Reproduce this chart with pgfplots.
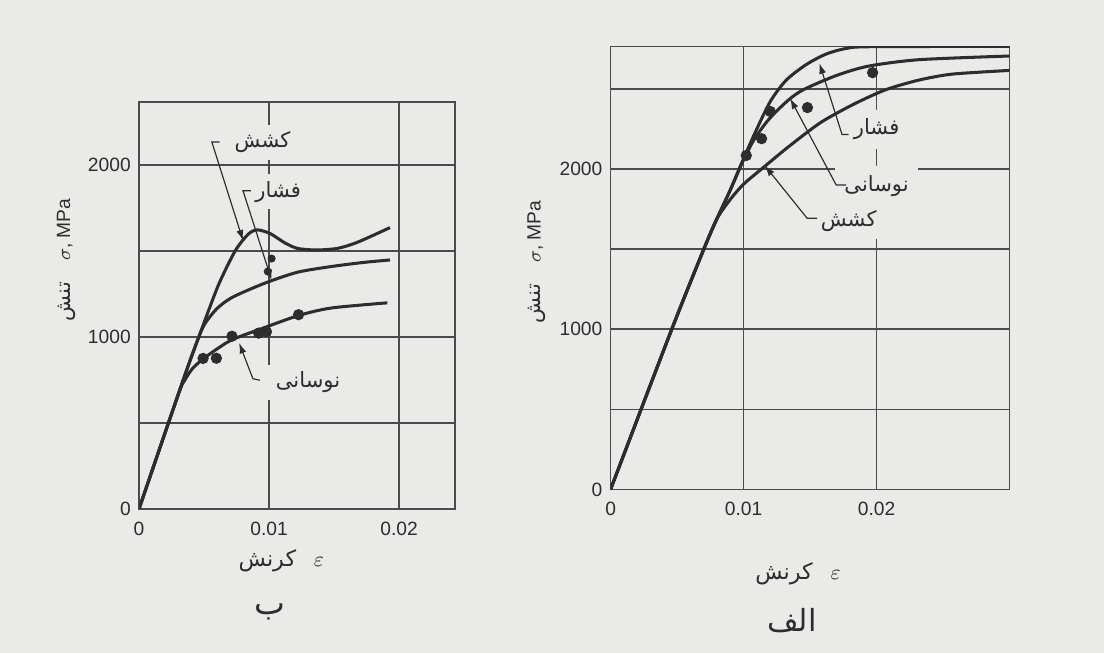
\documentclass[border=0pt]{standalone}
\usepackage{pgfplots}
\pgfplotsset{compat=1.18}
\usepackage{fontspec}
\setmainfont{Liberation Sans}
\newfontfamily\arabicfont[Script=Arabic]{DejaVu Sans}
\usetikzlibrary{arrows.meta}
\TeXXeTstate=1
\definecolor{paper}{RGB}{234,234,232}
\definecolor{ink}{RGB}{45,45,45}
\definecolor{gridc}{RGB}{75,75,75}
\newcommand{\fa}[1]{{\arabicfont\beginR #1\endR}}
\tikzset{
  lbl/.style={font=\fontsize{9}{10}\selectfont, fill=paper, inner sep=3pt, text=ink},
  lead/.style={ink, line width=0.5pt},
}
\pgfplotsset{
  panel/.style={
    scale only axis, anchor=south west,
    axis line style={gridc, line width=0.7pt},
    grid=both,
    major grid style={gridc,line width=0.6pt},
    minor grid style={gridc,line width=0.6pt},
    major tick length=0pt, minor tick length=0pt,
    xmin=0, ymin=0,
    scaled x ticks=false, scaled y ticks=false,
    xtick={0,0.01,0.02}, xticklabels={0,0.01,0.02},
    ytick={0,1000,2000}, yticklabels={0,1000,2000},
    minor ytick={500,1500,2500},
    tick label style={font=\fontsize{8.2}{9}\selectfont, text=ink},
    xticklabel style={yshift=-2pt},
    /pgf/number format/assume math mode=true,
  },
  curve/.style={ink, line width=1.3pt, smooth, tension=0.45, mark=none},
  dots/.style={ink, only marks, mark=*, mark size=2.2pt},
}
\begin{document}
\begin{tikzpicture}
\fill[paper] (0,0) rectangle (16.56,9.795);

% ---------------- left panel (b)
\begin{axis}[panel, at={(2.085cm,2.16cm)}, width=4.74cm, height=6.105cm,
  xmax=0.0243, ymax=2365]
\node[lbl] at (axis cs:0.0095,2130) {\fa{کشش}};
\node[lbl] at (axis cs:0.0107,1844) {\fa{فشار}};
\node[lbl, inner xsep=6pt] at (axis cs:0.0130,736) {\fa{نوسانی}};
\draw[lead,-{Latex[length=4.5pt,width=3pt]}] (axis cs:0.0062,2133) -- (axis cs:0.0056,2133) -- (axis cs:0.0080,1560);
\draw[lead,-{Latex[length=4.5pt,width=3pt]}] (axis cs:0.0086,1849) -- (axis cs:0.0080,1849) -- (axis cs:0.0102,1330);
\draw[lead,-{Latex[length=4.5pt,width=3pt]}] (axis cs:0.0093,748) -- (axis cs:0.00876,757) -- (axis cs:0.0077,965);
% tension
\addplot[curve] coordinates {(0,0) (0.0034,750) (0.0046,1000) (0.0061,1300) (0.0074,1500) (0.0084,1597) (0.0091,1622) (0.0101,1600) (0.0112,1547) (0.0122,1514) (0.0137,1505) (0.0153,1515) (0.0168,1550) (0.0193,1635)};
% compression
\addplot[curve] coordinates {(0,0) (0.0034,750) (0.0046,1000) (0.0051,1080) (0.0060,1165) (0.0072,1231) (0.0097,1313) (0.0122,1376) (0.0148,1409) (0.0173,1433) (0.0193,1447)};
% cyclic
\addplot[curve] coordinates {(0,0) (0.0030,660) (0.0035,745) (0.0041,815) (0.0049,870) (0.0060,930) (0.0072,985) (0.0095,1050) (0.0123,1125) (0.0148,1168) (0.0191,1198)};
\addplot[dots] coordinates {(0.00493,875) (0.00595,876) (0.00715,1004) (0.0092,1022) (0.0098,1030) (0.01227,1129)};
\addplot[dots, mark size=1.5pt] coordinates {(0.0102,1455) (0.0099,1380)};
\end{axis}

% ---------------- right panel (alef)
\begin{axis}[panel, at={(9.159cm,2.454cm)}, width=5.985cm, height=6.645cm,
  xmax=0.03, ymax=2765]
\node[lbl, inner sep=4pt] at (axis cs:0.0200,2246) {\fa{فشار}};
\node[lbl, inner sep=4pt] at (axis cs:0.0200,1893) {\fa{نوسانی}};
\node[lbl] at (axis cs:0.0179,1674) {\fa{کشش}};
\draw[lead,-{Latex[length=4.5pt,width=3pt]}] (axis cs:0.0179,2215) -- (axis cs:0.0174,2215) -- (axis cs:0.0157,2660);
\draw[lead,-{Latex[length=4.5pt,width=3pt]}] (axis cs:0.0177,1900) -- (axis cs:0.01696,1900) -- (axis cs:0.0135,2440);
\draw[lead,-{Latex[length=4.5pt,width=3pt]}] (axis cs:0.01553,1692) -- (axis cs:0.01478,1692) -- (axis cs:0.0116,2020);
% tension (lowest)
\addplot[curve] coordinates {(0,0) (0.0046,1000) (0.0071,1518) (0.0080,1690) (0.0090,1810) (0.0100,1905) (0.0115,2010) (0.0134,2140) (0.0158,2290) (0.0183,2405) (0.0207,2495) (0.0232,2555) (0.0257,2592) (0.0300,2615)};
% cyclic (middle)
\addplot[curve] coordinates {(0,0) (0.0046,1000) (0.0071,1518) (0.0080,1690) (0.0090,1868) (0.0099,2040) (0.0108,2185) (0.0119,2310) (0.0133,2425) (0.0145,2495) (0.0170,2584) (0.0194,2642) (0.0232,2682) (0.0300,2705)};
% compression (top)
\addplot[curve] coordinates {(0,0) (0.0046,1000) (0.0071,1518) (0.0080,1690) (0.0090,1870) (0.0099,2045) (0.0108,2215) (0.0120,2420) (0.0132,2554) (0.0147,2651) (0.0162,2717) (0.0177,2752) (0.0195,2763) (0.0300,2765)};
\addplot[dots] coordinates {(0.0102,2084) (0.01135,2189) (0.0120,2359) (0.0148,2383) (0.0197,2601)};
\end{axis}

% axis titles and panel letters
\node[rotate=90, text=ink, font=\fontsize{8.2}{9}\selectfont] at (0.99,5.895) {\fa{\fontsize{9}{10}\selectfont تنش}\hspace{1.1em}$\sigma$, MPa};
\node[rotate=90, text=ink, font=\fontsize{8.2}{9}\selectfont] at (8.05,5.865) {\fa{\fontsize{9}{10}\selectfont تنش}\hspace{1.1em}$\sigma$, MPa};
\node[text=ink, font=\fontsize{9.5}{11}\selectfont] at (4.22,1.38) {\fa{کرنش}\hspace{0.8em}$\varepsilon$};
\node[text=ink, font=\fontsize{9.5}{11}\selectfont] at (11.97,1.185) {\fa{کرنش}\hspace{0.8em}$\varepsilon$};
\node[text=ink, font=\fontsize{14}{16}\selectfont] at (4.05,0.615) {\fa{ب}};
\node[text=ink, font=\fontsize{13}{15}\selectfont] at (11.88,0.48) {\fa{الف}};
\end{tikzpicture}
\end{document}
